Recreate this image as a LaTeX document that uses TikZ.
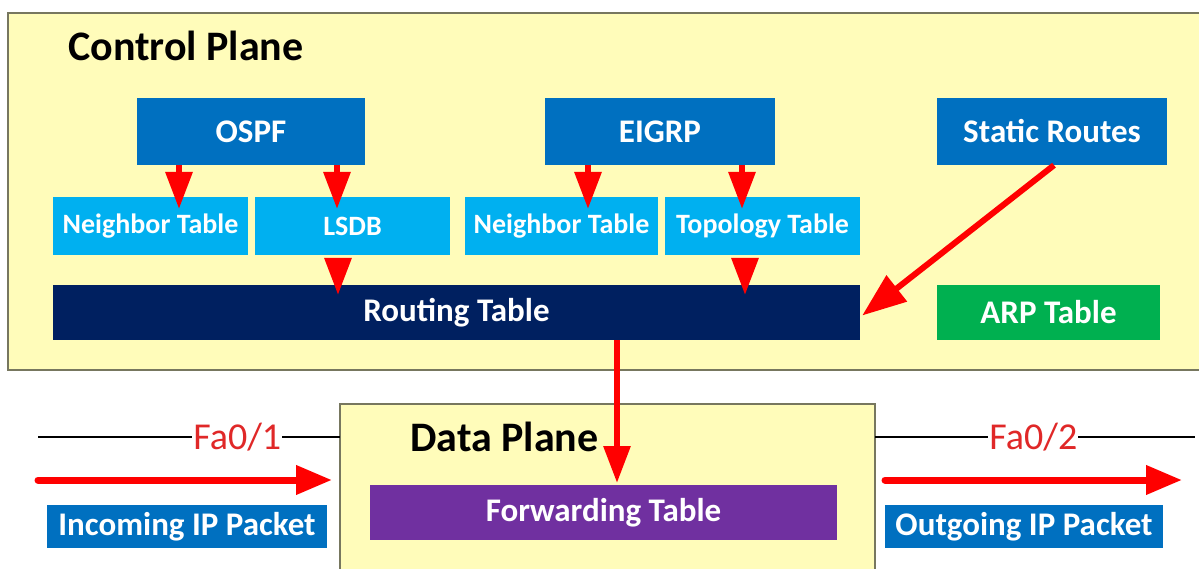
\documentclass[tikz,border=0pt]{standalone}
\usepackage{fontspec}
\setmainfont{Carlito}
\usetikzlibrary{arrows.meta}
\definecolor{cpfill}{HTML}{FFFCBA}
\definecolor{frame}{HTML}{77775F}
\definecolor{midblue}{HTML}{0070C0}
\definecolor{lightblue}{HTML}{00B0F0}
\definecolor{navy}{HTML}{002060}
\definecolor{arpgreen}{HTML}{00B050}
\definecolor{fwpurple}{HTML}{7030A0}
\definecolor{arrred}{HTML}{FF0000}
\definecolor{labred}{HTML}{E02828}
\tikzset{
  box/.style={inner sep=0pt, text=white, font=\bfseries\fontsize{33}{36}\selectfont},
  smallbox/.style={box, fill=lightblue, minimum height=58pt, font=\bfseries\fontsize{28}{32}\selectfont},
  title/.style={anchor=west, inner sep=0pt, font=\bfseries\fontsize{42}{46}\selectfont},
  arr/.style={draw=arrred, line width=6pt, -{Triangle[length=37pt,width=26pt]}},
  bigarr/.style={draw=arrred, line width=6pt, -{Triangle[length=44pt,width=32pt]}},
  port/.style={fill=white, inner sep=1pt, text=labred, font=\fontsize{38}{40}\selectfont},
  wire/.style={draw=black, line width=2pt},
  plane/.style={fill=cpfill},
  planeedge/.style={draw=frame, line width=2pt},
}
\begin{document}
\begin{tikzpicture}[x=1pt,y=-1pt]
\useasboundingbox (0,0) rectangle (1199,569);
\fill[white] (0,0) rectangle (1199,569);
% control plane
\fill[plane] (8,13) rectangle (1199,370);
\draw[planeedge] (1199,13) -- (8,13) -- (8,370) -- (1199,370);
\node[title] (cptitle) at (68,46) {Control Plane};
% data plane
\fill[plane] (340,404) rectangle (875,569);
\draw[planeedge] (340,569) -- (340,404) -- (875,404) -- (875,569);
\node[title] (dptitle) at (410,437) {Data Plane};

% control plane boxes
\node[box, fill=midblue, minimum width=228pt, minimum height=67pt] (ospf) at (251,131.5) {OSPF};
\node[box, fill=midblue, minimum width=230pt, minimum height=67pt] (eigrp) at (660,131.5) {EIGRP};
\node[box, fill=midblue, minimum width=230pt, minimum height=67pt] (static) at (1052,131.5) {Static Routes};
\node[smallbox, minimum width=195pt] (n1) at (150.5,226) {Neighbor Table};
\node[smallbox, minimum width=195pt] (lsdb) at (352.5,226) {LSDB};
\node[smallbox, minimum width=193pt] (n2) at (561.5,226) {Neighbor Table};
\node[smallbox, minimum width=195pt] (topo) at (762.5,226) {Topology Table};
\node[box, fill=navy, minimum width=807pt, minimum height=55pt] (routing) at (456.5,312.5) {Routing Table};
\node[box, fill=arpgreen, minimum width=223pt, minimum height=55pt] (arp) at (1048.5,312.5) {ARP Table};

% data plane boxes
\node[box, fill=fwpurple, minimum width=467pt, minimum height=55pt] (fwd) at (603.5,512.5) {Forwarding Table};
\node[box, fill=midblue, minimum width=280pt, minimum height=43pt] (inc) at (187,526.5) {Incoming IP Packet};
\node[box, fill=midblue, minimum width=278pt, minimum height=43pt] (out) at (1024,526.5) {Outgoing IP Packet};

% arrow tips
\coordinate (t1) at (179,209);
\coordinate (t2) at (337,209);
\coordinate (t3) at (588,209);
\coordinate (t4) at (742,209);
\coordinate (t5) at (338,295);
\coordinate (t6) at (745,295);
\coordinate (t7) at (617,483);
\draw[arr] (ospf.south -| t1) -- (t1);
\draw[arr] (ospf.south -| t2) -- (t2);
\draw[arr] (eigrp.south -| t3) -- (t3);
\draw[arr] (eigrp.south -| t4) -- (t4);
\draw[arr] ([yshift=-8pt]lsdb.south -| t5) -- (t5);
\draw[arr] ([yshift=-8pt]topo.south -| t6) -- (t6);
\draw[bigarr] ([xshift=2pt]static.south) -- ([xshift=2pt,yshift=-3pt]routing.east);
\draw[arr] (routing.south -| t7) -- (t7);

% wires with ports
\coordinate (w1a) at (38,437);
\coordinate (w1b) at (340,437);
\coordinate (w2a) at (875,437);
\coordinate (w2b) at (1195,437);
\draw[wire] (w1a) -- (w1b) node[port, pos=0.66] (fa1) {Fa0/1};
\draw[wire] (w2a) -- (w2b) node[port, pos=0.495] (fa2) {Fa0/2};

% packet flow arrows
\coordinate (i1) at (38,480);
\coordinate (i2) at (332,480);
\coordinate (o1) at (885,480);
\coordinate (o2) at (1182,480);
\draw[arr, line width=7pt, line cap=round, -{Triangle[length=36pt,width=28pt]}] (i1) -- (i2);
\draw[arr, line width=7pt, line cap=round, -{Triangle[length=36pt,width=28pt]}] (o1) -- (o2);
\end{tikzpicture}
\end{document}
